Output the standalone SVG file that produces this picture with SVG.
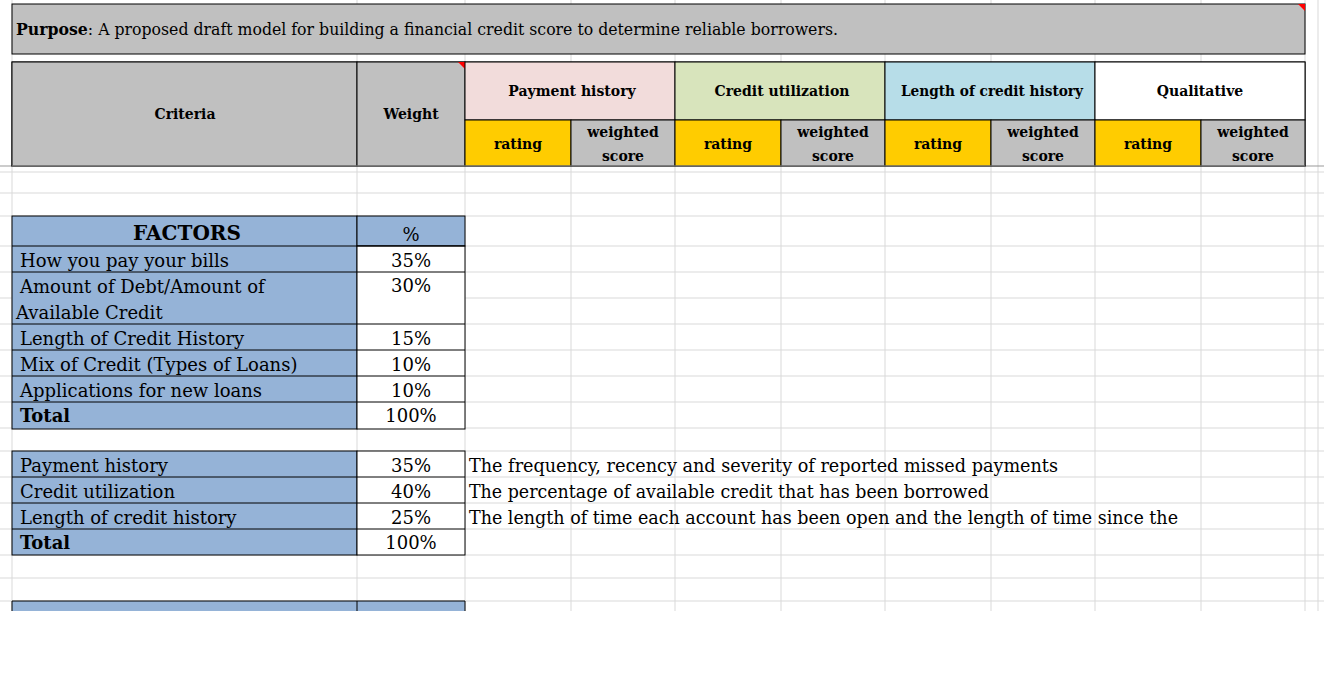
<svg xmlns="http://www.w3.org/2000/svg" width="1324" height="687" viewBox="0 0 1324 687">
<style>
.g{stroke:#d9d9d9;stroke-width:1}
.b{stroke:#000;stroke-width:1}
text{font-family:"DejaVu Serif","Liberation Serif",serif;fill:#000}
.h{font-size:14px;font-weight:bold}
.t{font-size:18px}
.c{text-anchor:middle}
</style>
<rect width="1324" height="687" fill="#fff"/>
<g id="grid">
<path class="g" d="M12 0V611M357 0V611M465 0V611M571 0V611M675 0V611M781 0V611M885 0V611M991 0V611M1095 0V611M1201 0V611M1305 0V611M1318 0V611M0 172H1324M0 193H1324M0 216H1324M0 246H1324M0 272H1324M0 298H1324M0 324H1324M0 350H1324M0 376H1324M0 402H1324M0 428H1324M0 451H1324M0 477H1324M0 503H1324M0 529H1324M0 555H1324M0 578H1324M0 601H1324"/>
<line x1="0" y1="166" x2="1324" y2="166" stroke="#999"/>
</g>
<g id="purpose">
<rect x="12" y="4" width="1293" height="50" fill="#c0c0c0" class="b"/>
<polygon points="1298,4 1305,4 1305,11" fill="#f00"/>
<text x="16" y="35" font-size="16" textLength="822" lengthAdjust="spacingAndGlyphs"><tspan font-weight="bold">Purpose</tspan>: A proposed draft model for building a financial credit score to determine reliable borrowers.</text>
</g>
<g id="header">
<rect x="12" y="62" width="1293" height="104" fill="#fff" class="b"/>
<rect x="12" y="62" width="345" height="104" fill="#c0c0c0" class="b"/>
<rect x="357" y="62" width="108" height="104" fill="#c0c0c0" class="b"/>
<polygon points="458,62 465,62 465,69" fill="#f00"/>
<rect x="465" y="62" width="210" height="58" fill="#f2dcdb" class="b"/>
<rect x="675" y="62" width="210" height="58" fill="#d8e4bc" class="b"/>
<rect x="885" y="62" width="210" height="58" fill="#b7dde8" class="b"/>
<rect x="1095" y="62" width="210" height="58" fill="#fff" class="b"/>
<rect x="465" y="120" width="106" height="46" fill="#ffcc00" class="b"/>
<rect x="571" y="120" width="104" height="46" fill="#c0c0c0" class="b"/>
<rect x="675" y="120" width="106" height="46" fill="#ffcc00" class="b"/>
<rect x="781" y="120" width="104" height="46" fill="#c0c0c0" class="b"/>
<rect x="885" y="120" width="106" height="46" fill="#ffcc00" class="b"/>
<rect x="991" y="120" width="104" height="46" fill="#c0c0c0" class="b"/>
<rect x="1095" y="120" width="106" height="46" fill="#ffcc00" class="b"/>
<rect x="1201" y="120" width="104" height="46" fill="#c0c0c0" class="b"/>
<line x1="12" y1="166" x2="1305" y2="166" stroke="#999"/>
<text class="h c" x="185" y="119">Criteria</text>
<text class="h c" x="411" y="119">Weight</text>
<text class="h c" x="572" y="96">Payment history</text>
<text class="h c" x="782" y="96">Credit utilization</text>
<text class="h c" x="992" y="96" textLength="182" lengthAdjust="spacingAndGlyphs">Length of credit history</text>
<text class="h c" x="1200" y="96">Qualitative</text>
<text class="h c" x="518" y="149">rating</text><text class="h c" x="623" y="137">weighted</text><text class="h c" x="623" y="161">score</text>
<text class="h c" x="728" y="149">rating</text><text class="h c" x="833" y="137">weighted</text><text class="h c" x="833" y="161">score</text>
<text class="h c" x="938" y="149">rating</text><text class="h c" x="1043" y="137">weighted</text><text class="h c" x="1043" y="161">score</text>
<text class="h c" x="1148" y="149">rating</text><text class="h c" x="1253" y="137">weighted</text><text class="h c" x="1253" y="161">score</text>
</g>
<g id="factors">
<rect x="12" y="216" width="345" height="213" fill="#95b3d7" class="b"/>
<rect x="357" y="216" width="108" height="30" fill="#95b3d7" class="b"/>
<rect x="357" y="246" width="108" height="183" fill="#fff" class="b"/>
<path class="b" d="M12 246H465M12 272H465M12 324H465M12 350H465M12 376H465M12 402H465"/>
<text class="c" x="187" y="240" font-size="20" font-weight="bold">FACTORS</text>
<text class="c t" x="411" y="241">%</text>
<text class="t" x="20" y="267">How you pay your bills</text><text class="t c" x="411" y="267">35%</text>
<text class="t" x="20" y="293">Amount of Debt/Amount of</text><text class="t c" x="411" y="292">30%</text>
<text class="t" x="16" y="319">Available Credit</text>
<text class="t" x="20" y="345">Length of Credit History</text><text class="t c" x="411" y="345">15%</text>
<text class="t" x="20" y="371">Mix of Credit (Types of Loans)</text><text class="t c" x="411" y="371">10%</text>
<text class="t" x="20" y="397">Applications for new loans</text><text class="t c" x="411" y="397">10%</text>
<text class="t" x="20" y="422" font-weight="bold">Total</text><text class="t c" x="411" y="422">100%</text>
</g>
<g id="weights">
<rect x="12" y="451" width="345" height="104" fill="#95b3d7" class="b"/>
<rect x="357" y="451" width="108" height="104" fill="#fff" class="b"/>
<path class="b" d="M12 477H465M12 503H465M12 529H465"/>
<text class="t" x="20" y="472">Payment history</text><text class="t c" x="411" y="472">35%</text>
<text class="t" x="20" y="498">Credit utilization</text><text class="t c" x="411" y="498">40%</text>
<text class="t" x="20" y="524">Length of credit history</text><text class="t c" x="411" y="524">25%</text>
<text class="t" x="20" y="549" font-weight="bold">Total</text><text class="t c" x="411" y="549">100%</text>
<text class="t" x="469" y="472" textLength="589" lengthAdjust="spacingAndGlyphs">The frequency, recency and severity of reported missed payments</text>
<text class="t" x="469" y="498" textLength="520" lengthAdjust="spacingAndGlyphs">The percentage of available credit that has been borrowed</text>
<text class="t" x="469" y="524" textLength="709" lengthAdjust="spacingAndGlyphs">The length of time each account has been open and the length of time since the</text>
</g>
<g id="bottom">
<rect x="12" y="601" width="453" height="10" fill="#95b3d7"/>
<path class="b" d="M12 601H465M357 601V611M12 601V611M465 601V611"/>
<rect x="0" y="611" width="1324" height="76" fill="#fff"/>
</g>
</svg>
